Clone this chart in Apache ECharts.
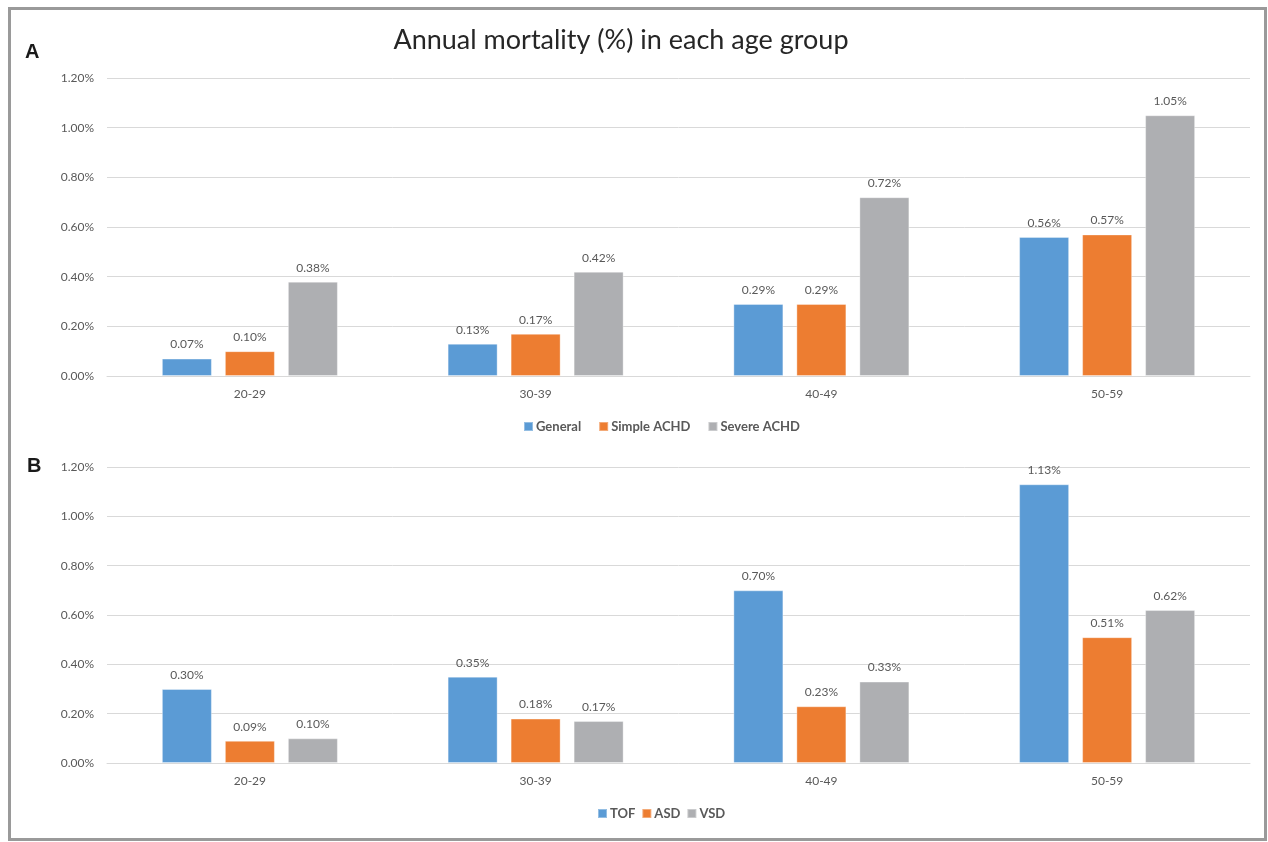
<!DOCTYPE html>
<html>
<head>
<meta charset="utf-8">
<script src="https://cdn.jsdelivr.net/npm/echarts@6/dist/echarts.min.js"></script>
<style>
  html, body { margin: 0; padding: 0; background: #fff; }
  #chart { width: 1268px; height: 842px; }
</style>
</head>
<body>
<div id="chart"></div>
<script>
var ageGroups = ['20-29', '30-39', '40-49', '50-59'];

// panel A
var generalVals = [0.07, 0.13, 0.29, 0.56];
var simpleVals = [0.10, 0.17, 0.29, 0.57];
var severeVals = [0.38, 0.42, 0.72, 1.05];

// panel B
var tofVals = [0.30, 0.35, 0.70, 1.13];
var asdVals = [0.09, 0.18, 0.23, 0.51];
var vsdVals = [0.10, 0.17, 0.33, 0.62];

var colors = ['#5B9BD5', '#ED7D31', '#AEAFB2'];
var font = 'Lato, "Open Sans", sans-serif';

var chart = echarts.init(document.getElementById('chart'));

function yAxis(idx) {
    return {
        type: 'value',
        gridIndex: idx,
        min: 0,
        max: 1.2,
        interval: 0.2,
        axisLine: { show: false },
        axisTick: { show: false },
        axisLabel: {
            color: '#595959',
            fontSize: 12,
            fontFamily: font,
            margin: 13,
            formatter: function (v) { return v.toFixed(2) + '%'; }
        },
        splitLine: { lineStyle: { color: '#D9D9D9', width: 1 } }
    };
}

function xAxis(idx) {
    return {
        type: 'category',
        gridIndex: idx,
        data: ageGroups,
        axisLine: { lineStyle: { color: '#D9D9D9' } },
        axisTick: { show: false },
        axisLabel: { color: '#595959', fontSize: 12, fontFamily: font, margin: 12 }
    };
}

function bars(name, data, idx, color) {
    return {
        name: name,
        type: 'bar',
        xAxisIndex: idx,
        yAxisIndex: idx,
        data: data,
        barWidth: 50,
        barGap: '26%',
        itemStyle: { color: color, borderColor: 'rgba(255,255,255,0.35)', borderWidth: 1 },
        label: {
            show: true,
            position: 'top',
            distance: 8,
            color: '#595959',
            fontSize: 12,
            fontFamily: font,
            formatter: function (p) { return p.value.toFixed(2) + '%'; }
        }
    };
}

var legendText = { color: '#595959', fontSize: 13, fontWeight: 'bold', fontFamily: font, padding: [0, 0, 0, -2] };

var option = {
    animation: false,
    color: colors,
    graphic: [
        {
            type: 'rect',
            shape: { x: 9.5, y: 8.5, width: 1256, height: 831 },
            style: { fill: 'none', stroke: '#9A9A9A', lineWidth: 3 }
        },
        {
            type: 'text', x: 621, y: 40,
            style: {
                text: 'Annual mortality (%) in each age group',
                fill: '#262626',
                font: '27px Lato, "Open Sans", sans-serif',
                textAlign: 'center',
                textVerticalAlign: 'middle'
            }
        },
        {
            type: 'text', left: 25, top: 42,
            style: { text: 'A', fill: '#1a1a1a', font: 'bold 20px Arial, "Liberation Sans", sans-serif' }
        },
        {
            type: 'text', left: 27, top: 456,
            style: { text: 'B', fill: '#1a1a1a', font: 'bold 20px Arial, "Liberation Sans", sans-serif' }
        }
    ],
    legend: [
        {
            data: ['General', 'Simple ACHD', 'Severe ACHD'],
            left: 523,
            top: 420,
            padding: 0,
            itemWidth: 9,
            itemHeight: 9,
            itemGap: 17,
            icon: 'rect',
            textStyle: legendText
        },
        {
            data: ['TOF', 'ASD', 'VSD'],
            left: 597,
            top: 807,
            padding: 0,
            itemWidth: 9,
            itemHeight: 9,
            itemGap: 6,
            icon: 'rect',
            textStyle: legendText
        }
    ],
    grid: [
        { left: 107, right: 18, top: 78, height: 298 },
        { left: 107, right: 18, top: 467, height: 296 }
    ],
    xAxis: [xAxis(0), xAxis(1)],
    yAxis: [yAxis(0), yAxis(1)],
    series: [
        bars('General', generalVals, 0, colors[0]),
        bars('Simple ACHD', simpleVals, 0, colors[1]),
        bars('Severe ACHD', severeVals, 0, colors[2]),
        bars('TOF', tofVals, 1, colors[0]),
        bars('ASD', asdVals, 1, colors[1]),
        bars('VSD', vsdVals, 1, colors[2])
    ]
};

chart.setOption(option);
</script>
</body>
</html>
